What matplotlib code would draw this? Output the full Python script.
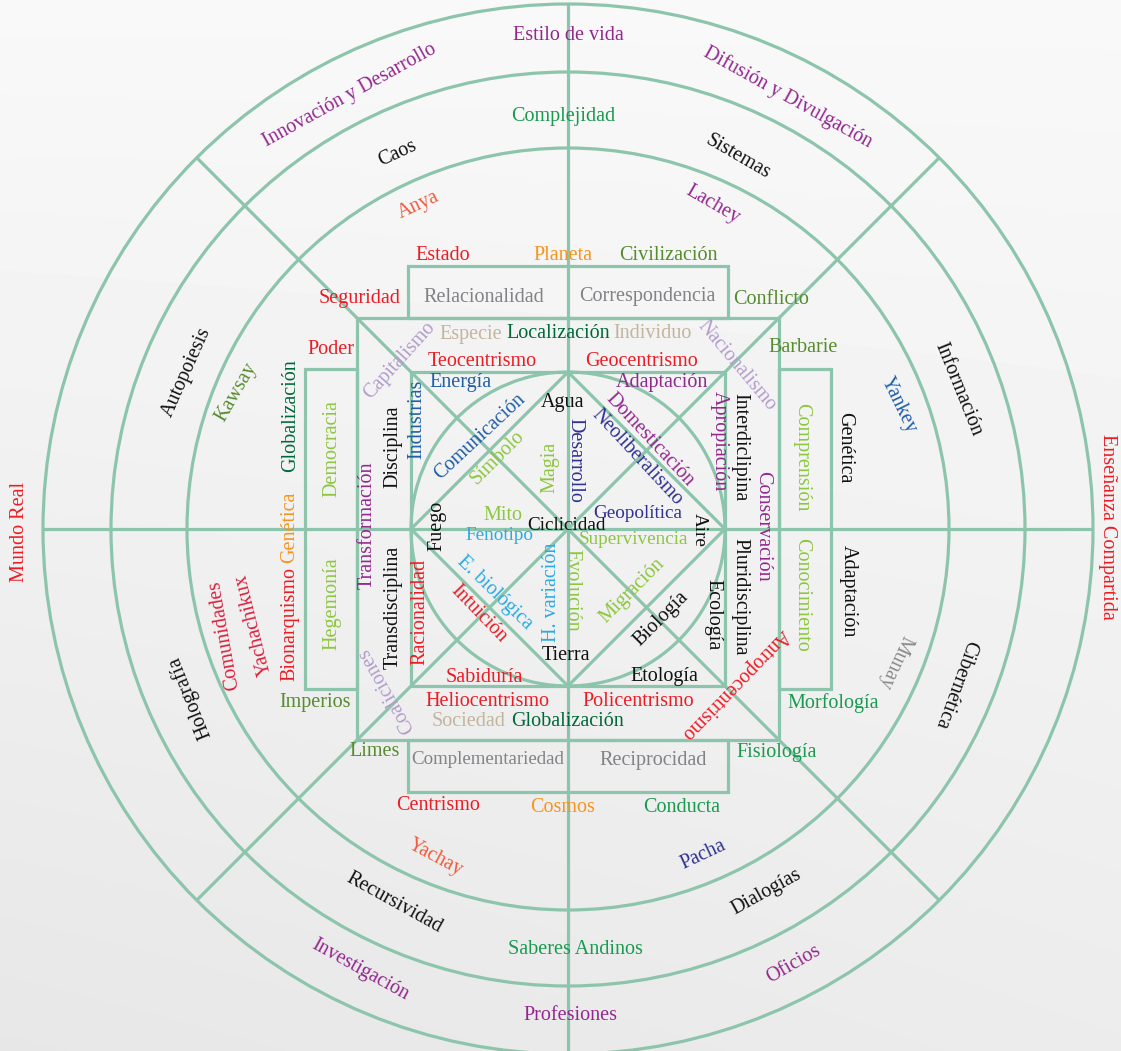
import matplotlib
matplotlib.use('Agg')
import matplotlib.pyplot as plt
import numpy as np
from matplotlib.patches import Circle, Rectangle

W, H = 1121, 1051
CX, CY = 568, 529

# ---- structure (pixel units of the reference) ----
circle_radii = [525, 457, 381, 157]
inner_half = 157        # inner square half side (circumscribes inner circle)
middle_half = 211       # middle square half side
rect_out = 263          # outer edge of the side rectangles
rect_half_len = 160     # half length of the side rectangles

LINE = '#8cc5ab'
PURPLE = '#93278f'
RED = '#ed1c24'
GREEN = '#1a9a4f'
DKGREEN = '#006838'
OLIVE = '#568b2e'
LTGREEN = '#8dc63f'
GRAY = '#808285'
TAN = '#c2b59b'
LAVENDER = '#b39ccb'
BLUE = '#1f5ea8'
NAVY = '#2e3192'
LTBLUE = '#29abe2'
ORANGE = '#f7941d'
CORAL = '#f15a3a'
CRIMSON = '#dc1f3c'
BLACK = '#111111'
MIDGRAY = '#8a8a8a'

# ---- labels: (text, x, y, rotation, colour) ----
outer_ring = [
    ("Estilo de vida", 568, 35, 0, PURPLE),
    ("Innovación y Desarrollo", 350, 95, 29, PURPLE),
    ("Difusión y Divulgación", 788, 97, -29, PURPLE),
    ("Mundo Real", 20, 532, 90, RED),
    ("Enseñanza Compartida", 1107, 527, -90, RED),
    ("Investigación", 360, 970, -29, PURPLE),
    ("Profesiones", 570, 1015, 0, PURPLE),
    ("Oficios", 794, 964, 30, PURPLE),
]
second_ring = [
    ("Complejidad", 563, 117, 0, GREEN),
    ("Caos", 397, 153, 25, BLACK),
    ("Sistemas", 738, 157, -30, BLACK),
    ("Autopoiesis", 187, 372, 66, BLACK),
    ("Información", 958, 389, -68, BLACK),
    ("Holografía", 190, 697, 112, BLACK),
    ("Cibernética", 955, 684, -110, BLACK),
    ("Recursividad", 394, 903, -29, BLACK),
    ("Saberes Andinos", 575, 950, 0, GREEN),
    ("Dialogías", 766, 892, 29, BLACK),
]
third_ring = [
    ("Anya", 418, 205, 25, CORAL),
    ("Lachey", 713, 205, -30, PURPLE),
    ("Kawsay", 236, 392, 60, OLIVE),
    ("Yankey", 899, 405, -64, BLUE),
    ("Comunidades", 224, 635, 100, CRIMSON),
    ("Yachachikux", 254, 625, 104, CRIMSON),
    ("Munay", 895, 662, -115, MIDGRAY),
    ("Yachay", 435, 858, -28, CORAL),
    ("Pacha", 703, 855, 25, NAVY),
]
around_rects = [
    ("Estado", 443, 255, 0, RED),
    ("Planeta", 563, 256, 0, ORANGE),
    ("Civilización", 668, 255, 0, OLIVE),
    ("Seguridad", 360, 298, 0, RED),
    ("Conflicto", 771, 300, 0, OLIVE),
    ("Poder", 331, 350, 0, RED),
    ("Barbarie", 803, 348, 0, OLIVE),
    ("Globalización", 291, 416, 90, DKGREEN),
    ("Genética", 290, 527, 90, ORANGE),
    ("Bionarquismo", 290, 624, 90, RED),
    ("Genética", 845, 448, -90, BLACK),
    ("Adaptación", 848, 591, -90, BLACK),
    ("Imperios", 315, 703, 0, OLIVE),
    ("Morfología", 833, 703, 0, GREEN),
    ("Limes", 375, 752, 0, OLIVE),
    ("Fisiología", 777, 753, 0, GREEN),
    ("Centrismo", 438, 806, 0, RED),
    ("Cosmos", 563, 808, 0, ORANGE),
    ("Conducta", 682, 807, 0, GREEN),
]
in_rects = [
    ("Relacionalidad", 484, 297, 0, GRAY),
    ("Correspondencia", 647, 297, 0, GRAY),
    ("Democracia", 332, 449, 90, LTGREEN),
    ("Hegemonía", 332, 604, 90, LTGREEN),
    ("Comprensión", 802, 457, -90, LTGREEN),
    ("Conocimiento", 802, 595, -90, LTGREEN),
    ("Complementariedad", 488, 760, 0, GRAY),
    ("Reciprocidad", 653, 760, 0, GRAY),
]
middle_band = [
    ("Capitalismo", 400, 361, 48, LAVENDER),
    ("Especie", 471, 334, 0, TAN),
    ("Localización", 558, 334, 0, DKGREEN),
    ("Individuo", 653, 334, 0, TAN),
    ("Teocentrismo", 482, 362, 0, RED),
    ("Geocentrismo", 641, 362, 0, RED),
    ("Nacionalismo", 737, 366, -50, LAVENDER),
    ("Disciplina", 393, 447, 90, BLACK),
    ("Transformación", 367, 525, 90, PURPLE),
    ("Transdisciplina", 393, 607, 90, BLACK),
    ("Coaliciones", 386, 690, 120, LAVENDER),
    ("Interdiclipina", 740, 447, -90, BLACK),
    ("Conservación", 763, 526, -90, PURPLE),
    ("Pluridisciplina", 740, 597, -90, BLACK),
    ("Antropocentrismo", 735, 684, -134, RED),
    ("Heliocentrismo", 487, 701, 0, RED),
    ("Policentrismo", 638, 701, 0, RED),
    ("Sociedad", 469, 722, 0, TAN),
    ("Globalización", 567, 722, 0, DKGREEN),
]
inner_square = [
    ("Energía", 461, 383, 0, BLUE),
    ("Adaptación", 662, 382, 0, PURPLE),
    ("Industrias", 417, 419, 90, BLUE),
    ("Agua", 563, 402, 0, BLACK),
    ("Comunicación", 480, 437, 43, BLUE),
    ("Símbolo", 498, 458, 45, LTGREEN),
    ("Magia", 550, 467, 90, LTGREEN),
    ("Desarrollo", 575, 460, -90, NAVY),
    ("Domesticación", 650, 440, -47, PURPLE),
    ("Neoliberalismo", 637, 457, -47, NAVY),
    ("Apropiación", 719, 441, -90, PURPLE),
    ("Fuego", 437, 526, 90, BLACK),
    ("Mito", 503, 515, 0, LTGREEN),
    ("Fenotipo", 499, 536, 0, LTBLUE),
    ("Ciclicidad", 567, 526, 0, BLACK),
    ("Geopolítica", 638, 513, 0, NAVY),
    ("Supervivencia", 633, 539, 0, LTGREEN),
    ("Aire", 699, 530, -90, BLACK),
    ("E. biológica", 495, 593, -44, LTBLUE),
    ("Intuición", 479, 614, -46, RED),
    ("Racionalidad", 420, 612, 90, RED),
    ("H. variación", 552, 592, 90, LTBLUE),
    ("Evolución", 572, 590, -90, LTGREEN),
    ("Tierra", 566, 655, 0, BLACK),
    ("Migración", 632, 591, 45, LTGREEN),
    ("Biología", 661, 619, 45, BLACK),
    ("Ecología", 713, 615, -90, BLACK),
    ("Sabiduría", 484, 677, 0, RED),
    ("Etología", 664, 677, 0, BLACK),
]
smaller_labels = {"Complementariedad": 13.6, "Fenotipo": 13.8, "Ciclicidad": 13.8,
                  "Geopolítica": 13.8, "Supervivencia": 13.8, "Aire": 13.8}

all_labels = (outer_ring + second_ring + third_ring + around_rects +
              in_rects + middle_band + inner_square)

# ---- figure ----
fig = plt.figure(figsize=(W / 100, H / 100), dpi=100)
ax = fig.add_axes([0, 0, 1, 1])
ax.set_xlim(0, W)
ax.set_ylim(H, 0)
ax.axis('off')

# soft grey background, lighter at the top right
yy, xx = np.mgrid[0:H, 0:W]
bg = 0.975 - 0.05 * (yy / H) - 0.02 * (1 - xx / W) * (yy / H)
ax.imshow(bg, cmap='gray', vmin=0, vmax=1, extent=[0, W, H, 0],
          zorder=0, aspect='auto', interpolation='bilinear')

lw = 2.3
kw = dict(color=LINE, lw=lw, zorder=2, solid_capstyle='butt')

for r in circle_radii:
    ax.add_patch(Circle((CX, CY), r, fill=False, edgecolor=LINE, lw=lw, zorder=2))

R = circle_radii[0]
# vertical / horizontal axes
ax.plot([CX, CX], [CY - R, CY + R], **kw)
ax.plot([CX - R, CX + R], [CY, CY], **kw)
# diagonals
d = R / np.sqrt(2)
ax.plot([CX - d, CX + d], [CY - d, CY + d], **kw)
ax.plot([CX - d, CX + d], [CY + d, CY - d], **kw)

# squares
for h in (inner_half, middle_half):
    ax.add_patch(Rectangle((CX - h, CY - h), 2 * h, 2 * h, fill=False,
                           edgecolor=LINE, lw=lw, zorder=2))
# diamond inside the inner square
ax.plot([CX, CX - inner_half, CX, CX + inner_half, CX],
        [CY - inner_half, CY, CY + inner_half, CY, CY - inner_half], **kw)

# side rectangles
depth = rect_out - middle_half
ax.add_patch(Rectangle((CX - rect_half_len, CY - rect_out), 2 * rect_half_len, depth,
                       fill=False, edgecolor=LINE, lw=lw, zorder=2))
ax.add_patch(Rectangle((CX - rect_half_len, CY + middle_half), 2 * rect_half_len, depth,
                       fill=False, edgecolor=LINE, lw=lw, zorder=2))
ax.add_patch(Rectangle((CX - rect_out, CY - rect_half_len), depth, 2 * rect_half_len,
                       fill=False, edgecolor=LINE, lw=lw, zorder=2))
ax.add_patch(Rectangle((CX + middle_half, CY - rect_half_len), depth, 2 * rect_half_len,
                       fill=False, edgecolor=LINE, lw=lw, zorder=2))

FONT = ['Liberation Serif', 'DejaVu Serif']
for text, x, y, rot, col in all_labels:
    fs = smaller_labels.get(text, 14.5)
    ax.text(x, y, text, color=col, fontsize=fs, family=FONT, rotation=rot,
            rotation_mode='anchor', ha='center', va='center', zorder=5)

fig.savefig('out.png', dpi=100)
